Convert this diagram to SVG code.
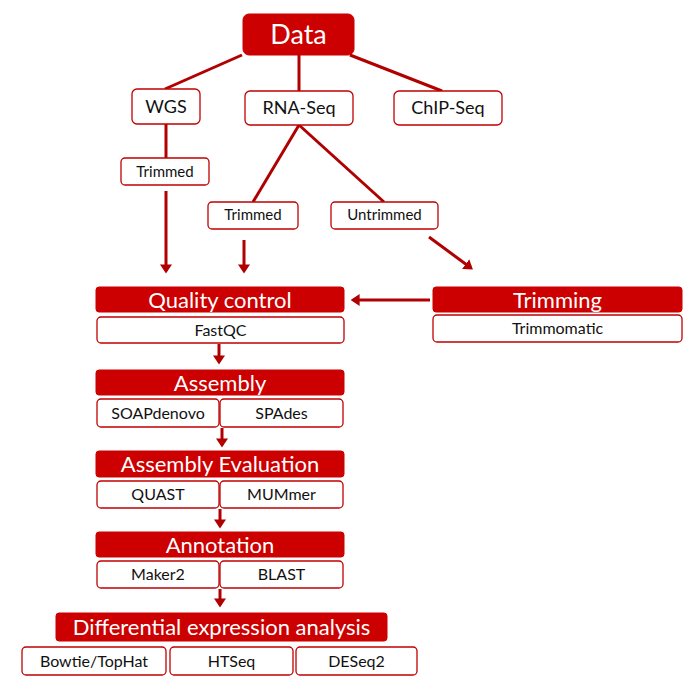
<svg xmlns="http://www.w3.org/2000/svg" width="698" height="695" viewBox="0 0 698 695">
<style>
.h rect{fill:#cc0000;stroke:#cc0000;stroke-width:1}
.h text{fill:#fff;font-family:Lato,"Liberation Sans",sans-serif;font-size:22px;text-anchor:middle}
.w rect{fill:#fff;stroke:#c00000;stroke-width:1.3}
.w text{fill:#111;font-family:Lato,"Liberation Sans",sans-serif;font-size:16px;text-anchor:middle}
.s text{font-size:15px}
.c line{stroke:#b00000;stroke-width:3}
.c .a{marker-end:url(#ah)}
</style>
<defs>
<marker id="ah" markerWidth="4" markerHeight="4" refX="2.2" refY="2" orient="auto" markerUnits="strokeWidth">
<path d="M0,0 L3,2 L0,4 z" fill="#b00000"/>
</marker>
</defs>
<g class="c" id="connectors">
<line x1="242" y1="55" x2="165" y2="89"/>
<line x1="299" y1="55" x2="299" y2="91"/>
<line x1="350" y1="55" x2="442" y2="91"/>
<line x1="166" y1="124" x2="166" y2="158"/>
<line x1="299" y1="125" x2="253" y2="202"/>
<line x1="299" y1="125" x2="384" y2="202"/>
<line class="a" x1="166" y1="191" x2="166" y2="271"/>
<line class="a" x1="244" y1="240" x2="244" y2="271"/>
<line class="a" x1="429" y1="237" x2="471" y2="268"/>
<line class="a" x1="430" y1="300" x2="353" y2="300"/>
<line class="a" x1="219" y1="344" x2="219" y2="362"/>
<line class="a" x1="222" y1="428" x2="222" y2="445"/>
<line class="a" x1="220" y1="509" x2="220" y2="526"/>
<line class="a" x1="220" y1="589" x2="220" y2="605"/>
</g>
<g class="h" id="data"><rect x="243" y="14" width="111" height="41" rx="6"/><text x="298.5" y="44" style="font-size:27px">Data</text></g>
<g class="w" id="wgs"><rect x="132" y="89" width="68" height="35" rx="5"/><text x="166" y="113" style="font-size:18px">WGS</text></g>
<g class="w" id="rnaseq"><rect x="245" y="91" width="108" height="34" rx="5"/><text x="299" y="114" style="font-size:18px">RNA-Seq</text></g>
<g class="w" id="chipseq"><rect x="394" y="91" width="108" height="34" rx="5"/><text x="448" y="114" style="font-size:18px">ChIP-Seq</text></g>
<g class="w s" id="trimmed-wgs"><rect x="121" y="158" width="88" height="27" rx="4"/><text x="165" y="177">Trimmed</text></g>
<g class="w s" id="trimmed-rna"><rect x="208" y="202" width="90" height="27" rx="4"/><text x="253" y="220">Trimmed</text></g>
<g class="w s" id="untrimmed"><rect x="331" y="202" width="107" height="27" rx="4"/><text x="384.5" y="220">Untrimmed</text></g>
<g class="h" id="qc"><rect x="96" y="287" width="248" height="25" rx="3"/><text x="220" y="307.5">Quality control</text></g>
<g class="w" id="fastqc"><rect x="97" y="317" width="247" height="26" rx="4"/><text x="220.5" y="336">FastQC</text></g>
<g class="h" id="trimming"><rect x="433" y="287" width="249" height="25" rx="3"/><text x="557.5" y="307.5">Trimming</text></g>
<g class="w" id="trimmomatic"><rect x="433" y="315" width="249" height="27" rx="4"/><text x="557.5" y="334">Trimmomatic</text></g>
<g class="h" id="assembly"><rect x="96" y="370" width="248" height="25" rx="3"/><text x="220" y="390.5">Assembly</text></g>
<g class="w" id="soapdenovo"><rect x="97" y="399" width="122" height="28" rx="4"/><text x="158" y="418.5">SOAPdenovo</text></g>
<g class="w" id="spades"><rect x="220" y="399" width="123" height="28" rx="4"/><text x="281.5" y="418.5">SPAdes</text></g>
<g class="h" id="assembly-eval"><rect x="96" y="451" width="248" height="26" rx="3"/><text x="220" y="472">Assembly Evaluation</text></g>
<g class="w" id="quast"><rect x="97" y="481" width="122" height="27" rx="4"/><text x="158" y="500">QUAST</text></g>
<g class="w" id="mummer"><rect x="220" y="481" width="123" height="27" rx="4"/><text x="281.5" y="500">MUMmer</text></g>
<g class="h" id="annotation"><rect x="96" y="532" width="248" height="25" rx="3"/><text x="220" y="552.5">Annotation</text></g>
<g class="w" id="maker2"><rect x="97" y="561" width="122" height="27" rx="4"/><text x="158" y="580">Maker2</text></g>
<g class="w" id="blast"><rect x="220" y="561" width="123" height="27" rx="4"/><text x="281.5" y="580">BLAST</text></g>
<g class="h" id="dea"><rect x="56" y="613" width="331" height="28" rx="3"/><text x="221.5" y="634.5">Differential expression analysis</text></g>
<g class="w" id="bowtie"><rect x="22" y="647" width="144" height="28" rx="4"/><text x="94" y="667">Bowtie/TopHat</text></g>
<g class="w" id="htseq"><rect x="170" y="647" width="123" height="28" rx="4"/><text x="231.5" y="667">HTSeq</text></g>
<g class="w" id="deseq2"><rect x="296" y="647" width="121" height="28" rx="4"/><text x="356.5" y="667">DESeq2</text></g>
</svg>
